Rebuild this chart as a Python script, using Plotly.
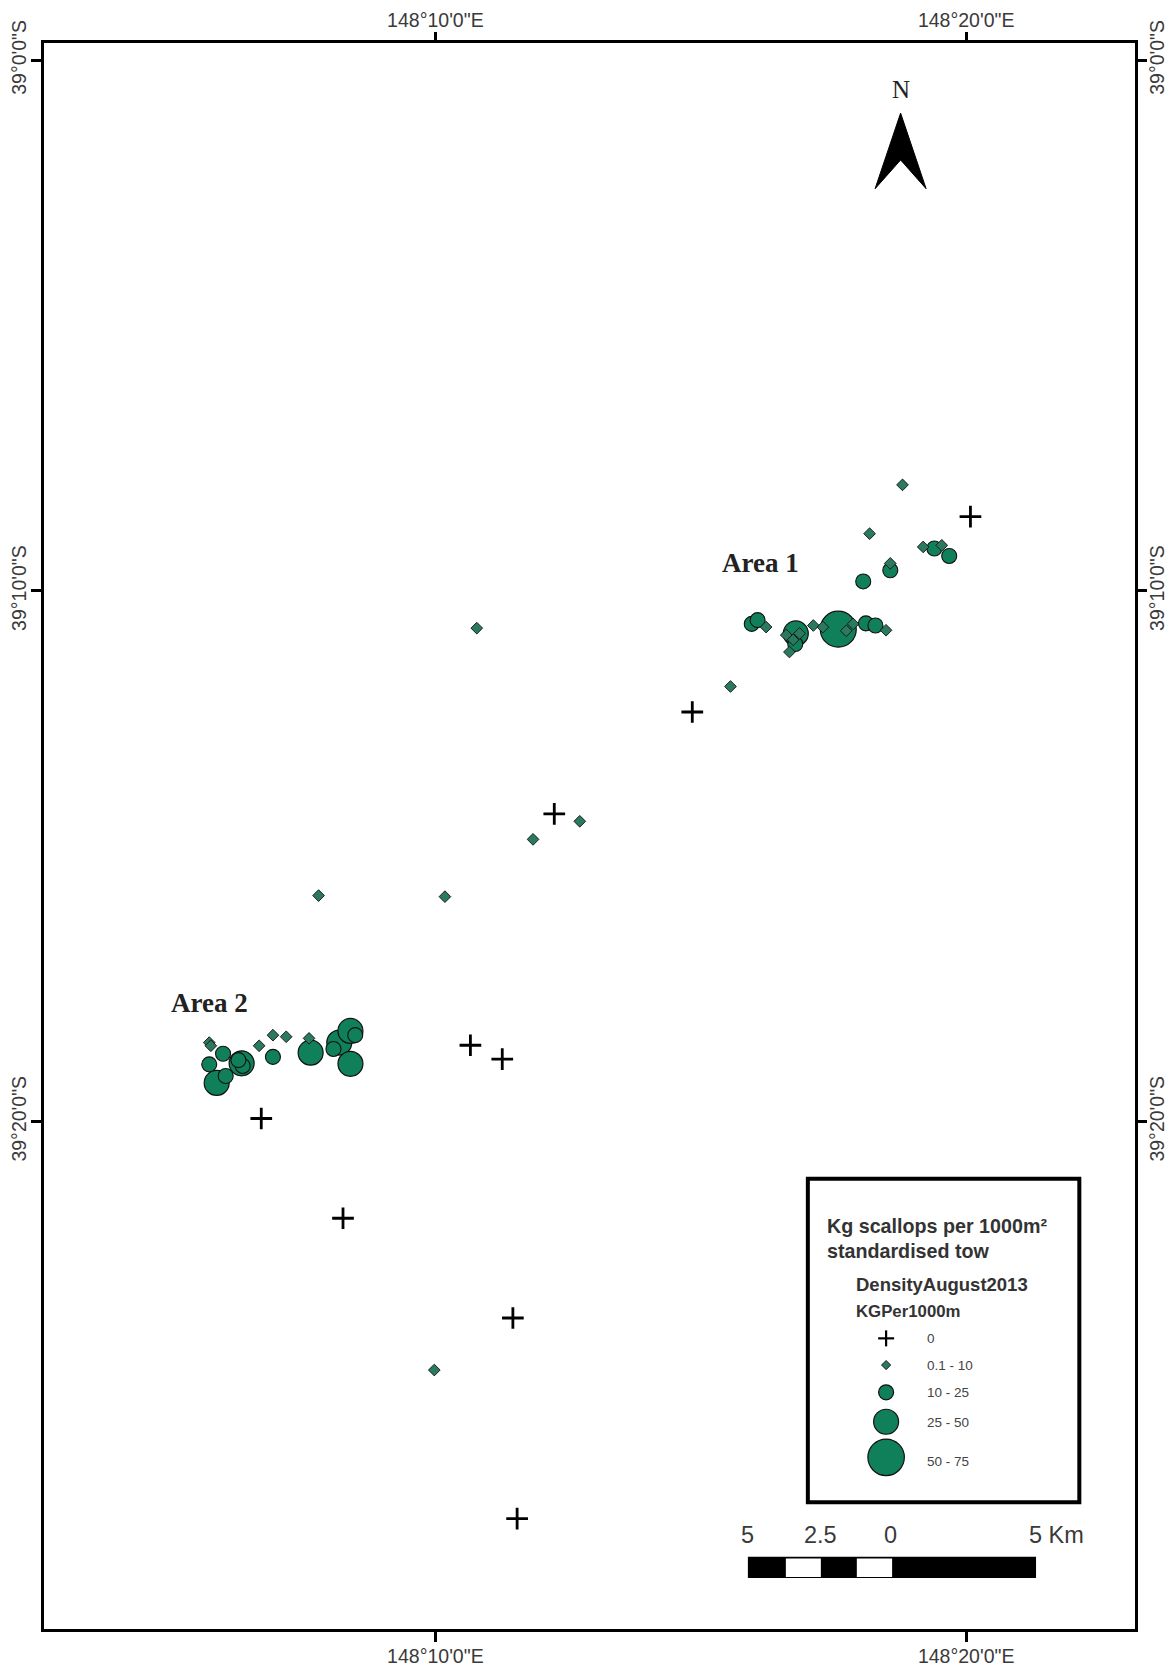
import plotly.graph_objects as go

# Station positions, minutes east of 148 deg and minutes south of 39 deg
zero_lon = [20.08, 14.84, 12.24, 10.66, 11.26, 6.72, 8.26, 11.46, 11.54]
zero_lat = [8.60, 12.28, 14.20, 18.56, 18.82, 19.94, 21.82, 23.70, 27.48]

low_lon = [18.80, 18.18, 19.19, 19.54, 18.57, 16.23, 17.12, 17.30, 17.87, 17.74, 18.49, 16.61, 16.86, 16.74, 16.67,
           10.78, 15.56, 12.72, 11.84, 7.80, 10.18, 9.98,
           5.74, 5.77, 6.68, 6.94, 7.19, 7.62]
low_lat = [8.00, 8.92, 9.17, 9.14, 9.48, 10.68, 10.65, 10.68, 10.62, 10.75, 10.74, 10.83, 10.80, 10.92, 11.15,
           10.70, 11.80, 14.34, 14.68, 15.74, 15.76, 24.68,
           18.51, 18.57, 18.57, 18.37, 18.40, 18.43]

mid_lon = [18.06, 18.57, 19.40, 19.68, 15.96, 16.07, 18.11, 18.29, 16.78,
           6.00, 5.74, 6.94, 6.05, 8.08, 8.49, 6.37, 6.29]
mid_lat = [9.82, 9.61, 9.20, 9.34, 10.62, 10.55, 10.61, 10.65, 11.00,
           18.72, 18.92, 18.78, 19.14, 18.63, 18.37, 18.95, 18.84]

high_lon = [16.79, 5.88, 6.35, 7.65, 8.19, 8.40, 8.40]
high_lat = [10.80, 19.27, 18.90, 18.70, 18.51, 18.29, 18.91]

top_lon = [17.59]
top_lat = [10.72]

lon_ticks = [10, 20]
lon_labels = ['148°10\'0"E', '148°20\'0"E']
lat_ticks = [0, 10, 20]
lat_labels = ['39°0\'0"S', '39°10\'0"S', '39°20\'0"S']

legend_labels = ["0", "0.1 - 10", "10 - 25", "25 - 50", "50 - 75"]
scale_labels = ["5", "2.5", "0", "5 Km"]

W, H = 1172, 1666
L, T, R, B = 43.5, 42.7, 1135, 1629
X_RANGE = [2.627, 23.18]
Y_RANGE = [29.56, -0.326]
GREEN = "#10805A"
SMALL = "#2B7A5E"
TXT = "#3a3a3a"


def px(x):
    return (x - L) / (R - L)


def py(y):
    return 1 - (y - T) / (B - T)


def rect(x0, y0, x1, y1, fill, line=None, width=0):
    return dict(type="rect", xref="paper", yref="paper", x0=px(x0), x1=px(x1), y0=py(y0), y1=py(y1),
                fillcolor=fill, line=dict(color=line or fill, width=width))


def text(x, y, s, size, family="Liberation Sans", color=TXT, bold=False, anchor="left"):
    return dict(xref="paper", yref="paper", x=px(x), y=py(y), text=f"<b>{s}</b>" if bold else s,
                showarrow=False, xanchor=anchor, yanchor="middle",
                font=dict(family=family, size=size, color=color), borderpad=0, borderwidth=0)


def dots(xs, ys, size, color, symbol, width):
    return go.Scatter(x=xs, y=ys, mode="markers", showlegend=False, hoverinfo="skip",
                      marker=dict(size=size, color=color, symbol=symbol, line=dict(color="#111111", width=width)))


fig = go.Figure()
fig.add_trace(dots(top_lon, top_lat, 36, GREEN, "circle", 1.2))
fig.add_trace(dots(high_lon, high_lat, 25, GREEN, "circle", 1.2))
fig.add_trace(dots(mid_lon, mid_lat, 15, GREEN, "circle", 1.1))
fig.add_trace(dots(low_lon, low_lat, 9, SMALL, "diamond", 0.9))
fig.add_trace(go.Scatter(x=zero_lon, y=zero_lat, mode="markers", showlegend=False, hoverinfo="skip",
                         marker=dict(size=15.5, symbol="cross-thin", color="black", line=dict(color="black", width=2.8))))
fig.add_trace(go.Scatter(x=[None], y=[None], xaxis="x2", yaxis="y2", showlegend=False, hoverinfo="skip"))

axis_font = dict(family="Liberation Sans", size=19.5, color=TXT)
common = dict(showgrid=False, zeroline=False, ticks="outside", ticklen=10.5, tickwidth=2.5, tickcolor="black",
              tickfont=axis_font, fixedrange=True)
fig.update_layout(
    width=W, height=H, margin=dict(l=L, t=T, r=W - R, b=H - B, pad=0, autoexpand=False),
    paper_bgcolor="white", plot_bgcolor="white", showlegend=False,
    xaxis=dict(range=X_RANGE, tickvals=lon_ticks, ticktext=lon_labels, side="bottom", tickangle=0,
               showline=True, mirror=True, linecolor="black", linewidth=2.5, ticklabelstandoff=-3, **common),
    xaxis2=dict(range=X_RANGE, tickvals=lon_ticks, ticktext=lon_labels, side="top", overlaying="x", tickangle=0,
                showline=False, ticklabelstandoff=-3, **common),
    yaxis=dict(range=Y_RANGE, tickvals=lat_ticks, ticktext=lat_labels, side="left", tickangle=-90,
               showline=True, mirror=True, linecolor="black", linewidth=2.5, ticklabelstandoff=-3, **common),
    yaxis2=dict(range=Y_RANGE, tickvals=lat_ticks, ticktext=lat_labels, side="right", overlaying="y", tickangle=-90,
                showline=False, ticklabelstandoff=-6, **common),
)

shapes = []
annos = []

# North arrow
ax, ay = [900.5, 926, 900.5, 875], [112.8, 188.4, 159.7, 188.4]
path = "M " + " L ".join(f"{px(a)} {py(b)}" for a, b in zip(ax, ay)) + " Z"
shapes.append(dict(type="path", xref="paper", yref="paper", path=path, fillcolor="black", line=dict(color="black", width=1)))
annos.append(text(900.5, 89, "N", 25, "Liberation Serif", "#222222", anchor="center"))

annos.append(text(722, 563, "Area 1", 27, "Liberation Serif", "#222222", True))
annos.append(text(171, 1002.5, "Area 2", 27, "Liberation Serif", "#222222", True))

# Legend box
shapes.append(rect(807.7, 1178.7, 1079.3, 1502.3, "white", "black", 4))
annos.append(text(827, 1226, "Kg scallops per 1000m²", 19.7, bold=True, color="#333333"))
annos.append(text(827, 1251, "standardised tow", 19.7, bold=True, color="#333333"))
annos.append(text(856, 1284, "DensityAugust2013", 18.5, bold=True, color="#333333"))
annos.append(text(856, 1311, "KGPer1000m", 16.8, bold=True, color="#333333"))

sym_x = 886
row_y = [1338.3, 1365, 1392.3, 1421.7, 1457.3]
lab_y = [1338, 1365.7, 1392.7, 1422, 1461.7]
for lab, y in zip(legend_labels, lab_y):
    annos.append(text(926.7, y, lab, 13.5, color="#444444"))
for dx, dy in [(8, 0), (0, 8)]:
    shapes.append(dict(type="line", xref="paper", yref="paper", x0=px(sym_x - dx), x1=px(sym_x + dx),
                       y0=py(row_y[0] - dy), y1=py(row_y[0] + dy), line=dict(color="black", width=2.2)))
r = 4.6
dpath = f"M {px(sym_x)} {py(row_y[1]-r)} L {px(sym_x+r)} {py(row_y[1])} L {px(sym_x)} {py(row_y[1]+r)} L {px(sym_x-r)} {py(row_y[1])} Z"
shapes.append(dict(type="path", xref="paper", yref="paper", path=dpath, fillcolor=SMALL, line=dict(color="#111111", width=0.9)))
for y, d in zip(row_y[2:], [15, 25, 36.5]):
    shapes.append(dict(type="circle", xref="paper", yref="paper", x0=px(sym_x - d / 2), x1=px(sym_x + d / 2),
                       y0=py(y - d / 2), y1=py(y + d / 2), fillcolor=GREEN, line=dict(color="#111111", width=1.2)))

# Scale bar
shapes.append(rect(747.7, 1556.7, 1036, 1578, "black"))
shapes.append(rect(785.7, 1558.5, 820.7, 1577, "white"))
shapes.append(rect(856.7, 1558.5, 892, 1577, "white"))
for s, x in zip(scale_labels, [747, 820.5, 890.5, 1056]):
    annos.append(text(x, 1535, s, 23.5, anchor="center"))

fig.update_layout(shapes=shapes, annotations=annos)
fig.write_html("out.html", config={"displayModeBar": False}, post_script="document.body.style.margin='0';")
